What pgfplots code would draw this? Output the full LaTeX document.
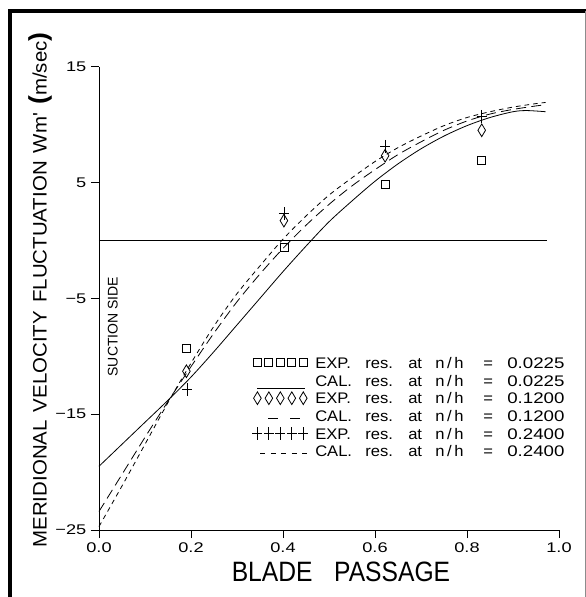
\documentclass[border=0pt]{standalone}
\usepackage{fontspec}
\usepackage{graphicx}
\usepackage{pgfplots}
\pgfplotsset{compat=1.18}
\setmainfont{Liberation Sans}

% wide plotter-style digits
\newcommand\wdig[1]{\scalebox{1.3}[1]{#1}}
\newcommand\legword[1]{\scalebox{1.08}[1]{#1}}
\newcommand\legnum[1]{\scalebox{1.22}[1]{#1}}
% legend line text: fixed word columns
\newcommand\entry[2]{%
  \makebox[37.5pt][l]{\legword{#1}}\makebox[32.25pt][l]{\legword{res.}}\makebox[20.25pt][l]{\legword{at}}%
  \makebox[36pt][l]{\legword{n\kern1.8pt/\kern1.8pt h}}\makebox[18pt][l]{\legword{=}}\legnum{#2}}

\pgfplotsset{
  five marks/.style={legend image code/.code={%
      \draw[##1,only marks] plot coordinates {(0pt,0pt)(8.6pt,0pt)(17.2pt,0pt)(25.8pt,0pt)(34.4pt,0pt)};}},
  solid sample/.style={legend image code/.code={%
      \draw[##1] (0pt,-6.3pt) -- (36pt,-6.3pt);}},
  long sample/.style={legend image code/.code={%
      \draw[##1,solid] (8.25pt,-1.5pt) -- (15.75pt,-1.5pt) (24.75pt,-1.5pt) -- (32.25pt,-1.5pt);}},
  short sample/.style={legend image code/.code={%
      \draw[##1,dash pattern=on 3.75pt off 4.05pt] (2.25pt,-1.2pt) -- (37.25pt,-1.2pt);}},
}
\tikzset{legtext/.style={anchor=base west, inner sep=0pt, font=\fontsize{11.5}{12}\selectfont}}

\begin{document}
\begin{tikzpicture}
\begin{axis}[
  scale only axis,
  width=345pt, height=347.6pt,
  xmin=0, xmax=1, ymin=-25, ymax=15,
  axis lines=left,
  axis line style={-, line width=0.6pt},
  tick align=outside,
  major tick length=6pt,
  tick style={line width=0.6pt, black},
  clip=false,
  xtick={0,0.2,0.4,0.6,0.8,1.0},
  xticklabels={\wdig{0.0},\wdig{0.2},\wdig{0.4},\wdig{0.6},\wdig{0.8},\wdig{1.0}},
  ytick={-25,-15,-5,5,15},
  yticklabels={\wdig{−25},\wdig{−15},\wdig{−5},\wdig{5},\wdig{15}},
  tick label style={font=\fontsize{10.5}{12}\selectfont},
  xlabel={\scalebox{0.88}[1]{BLADE\hspace{0.6em} PASSAGE}},
  ylabel={\scalebox{1.05}[1]{MERIDIONAL\hspace{0.4em}VELOCITY\hspace{0.4em}FLUCTUATION\hspace{0.4em}Wm\textquotesingle\hspace{0.4em}{\bfseries\fontsize{19}{19}\selectfont(}m/sec{\bfseries\fontsize{19}{19}\selectfont)}}},
  every axis x label/.style={at={(axis description cs:0.526,-0.0906)}, anchor=center,
    font=\fontsize{21}{24}\selectfont},
  every axis y label/.style={at={(axis description cs:-0.128,0.518)}, anchor=center, rotate=90,
    font=\fontsize{14.6}{16}\selectfont},
  legend cell align=left,
  legend style={at={(axis cs:0.3335,-9.80)}, anchor=north west, draw=none, fill=none,
    inner sep=0pt, outer sep=0pt, row sep=0pt,
    nodes={inner sep=0pt, text height=9.5pt, text depth=3.8pt},
    /tikz/every odd column/.append style={column sep=5.8pt}},
  every axis plot/.append style={line width=0.6pt, black},
]

% reference line at zero
\addplot[forget plot] coordinates {(0,0) (0.973,0)};

% n/h = 0.0225
\addplot[only marks, mark=square, mark size=3pt, five marks] coordinates {
  (0.190,-9.3) (0.402,-0.6) (0.622,4.8) (0.832,6.9)};
\addlegendentry{\phantom{E}}
\addplot[smooth, solid sample] coordinates {
  (0,-19.5) (0.05,-17.6) (0.10,-15.7) (0.15,-13.8) (0.20,-11.8) (0.25,-9.6)
  (0.30,-7.3) (0.35,-5.0) (0.40,-2.7) (0.45,-0.5) (0.50,1.6) (0.55,3.4)
  (0.60,5.1) (0.65,6.6) (0.70,7.9) (0.75,9.0) (0.80,9.9) (0.85,10.6)
  (0.90,11.1) (0.93,11.2) (0.971,11.1)};
\addlegendentry{\phantom{E}}

% n/h = 0.1200
\addplot[only marks, mark=diamond, mark size=4.76pt, mark options={xscale=0.8}, five marks] coordinates {
  (0.190,-11.3) (0.402,1.7) (0.622,7.3) (0.832,9.5)};
\addlegendentry{\phantom{E}}
\addplot[smooth, dash pattern=on 7.5pt off 4pt, long sample] coordinates {
  (0,-23.4) (0.05,-20.2) (0.10,-17.0) (0.15,-13.9) (0.20,-10.9) (0.25,-8.0)
  (0.30,-5.3) (0.35,-2.9) (0.40,-0.7) (0.45,1.3) (0.50,3.1) (0.55,4.7)
  (0.60,6.1) (0.65,7.4) (0.70,8.5) (0.75,9.5) (0.80,10.3) (0.85,10.9)
  (0.90,11.3) (0.95,11.6) (0.971,11.7)};
\addlegendentry{\phantom{E}}

% n/h = 0.2400
\addplot[only marks, mark=+, mark size=3.75pt, mark options={yscale=1.3}, five marks] coordinates {
  (0.192,-12.9) (0.402,2.3) (0.622,8.1) (0.832,10.7)};
\addlegendentry{\phantom{E}}
\addplot[smooth, dash pattern=on 3.5pt off 3pt, short sample] coordinates {
  (0,-24.7) (0.05,-21.2) (0.10,-17.6) (0.15,-14.0) (0.20,-10.6) (0.25,-7.4)
  (0.30,-4.6) (0.35,-2.2) (0.40,0.1) (0.45,2.1) (0.50,3.9) (0.55,5.4)
  (0.60,6.8) (0.65,8.0) (0.70,9.0) (0.75,9.9) (0.80,10.6) (0.85,11.1)
  (0.90,11.5) (0.95,11.8) (0.971,11.9)};
\addlegendentry{\phantom{E}}

% legend wording, one line per series
\node[legtext] at (axis cs:0.4696,-11.05) {\entry{EXP.}{0.0225}};
\node[legtext] at (axis cs:0.4696,-12.58) {\entry{CAL.}{0.0225}};
\node[legtext] at (axis cs:0.4696,-14.10) {\entry{EXP.}{0.1200}};
\node[legtext] at (axis cs:0.4696,-15.63) {\entry{CAL.}{0.1200}};
\node[legtext] at (axis cs:0.4696,-17.16) {\entry{EXP.}{0.2400}};
\node[legtext] at (axis cs:0.4696,-18.68) {\entry{CAL.}{0.2400}};

\node[rotate=90, anchor=center, font=\fontsize{10.5}{12}\selectfont]
  at (axis cs:0.030,-7.46) {SUCTION\hspace{0.25em}SIDE};
\end{axis}

% page frame
\draw[line width=2.3pt] (-66.75pt,-52pt) -- (-66.75pt,389.25pt) -- (366pt,389.25pt);
\draw[line width=0.5pt, black!45] (364.5pt,389.25pt) -- (364.5pt,-52pt);

\pgfresetboundingbox
\useasboundingbox (-74.25pt,-50.25pt) rectangle (365.25pt,397.5pt);
\end{tikzpicture}
\end{document}
